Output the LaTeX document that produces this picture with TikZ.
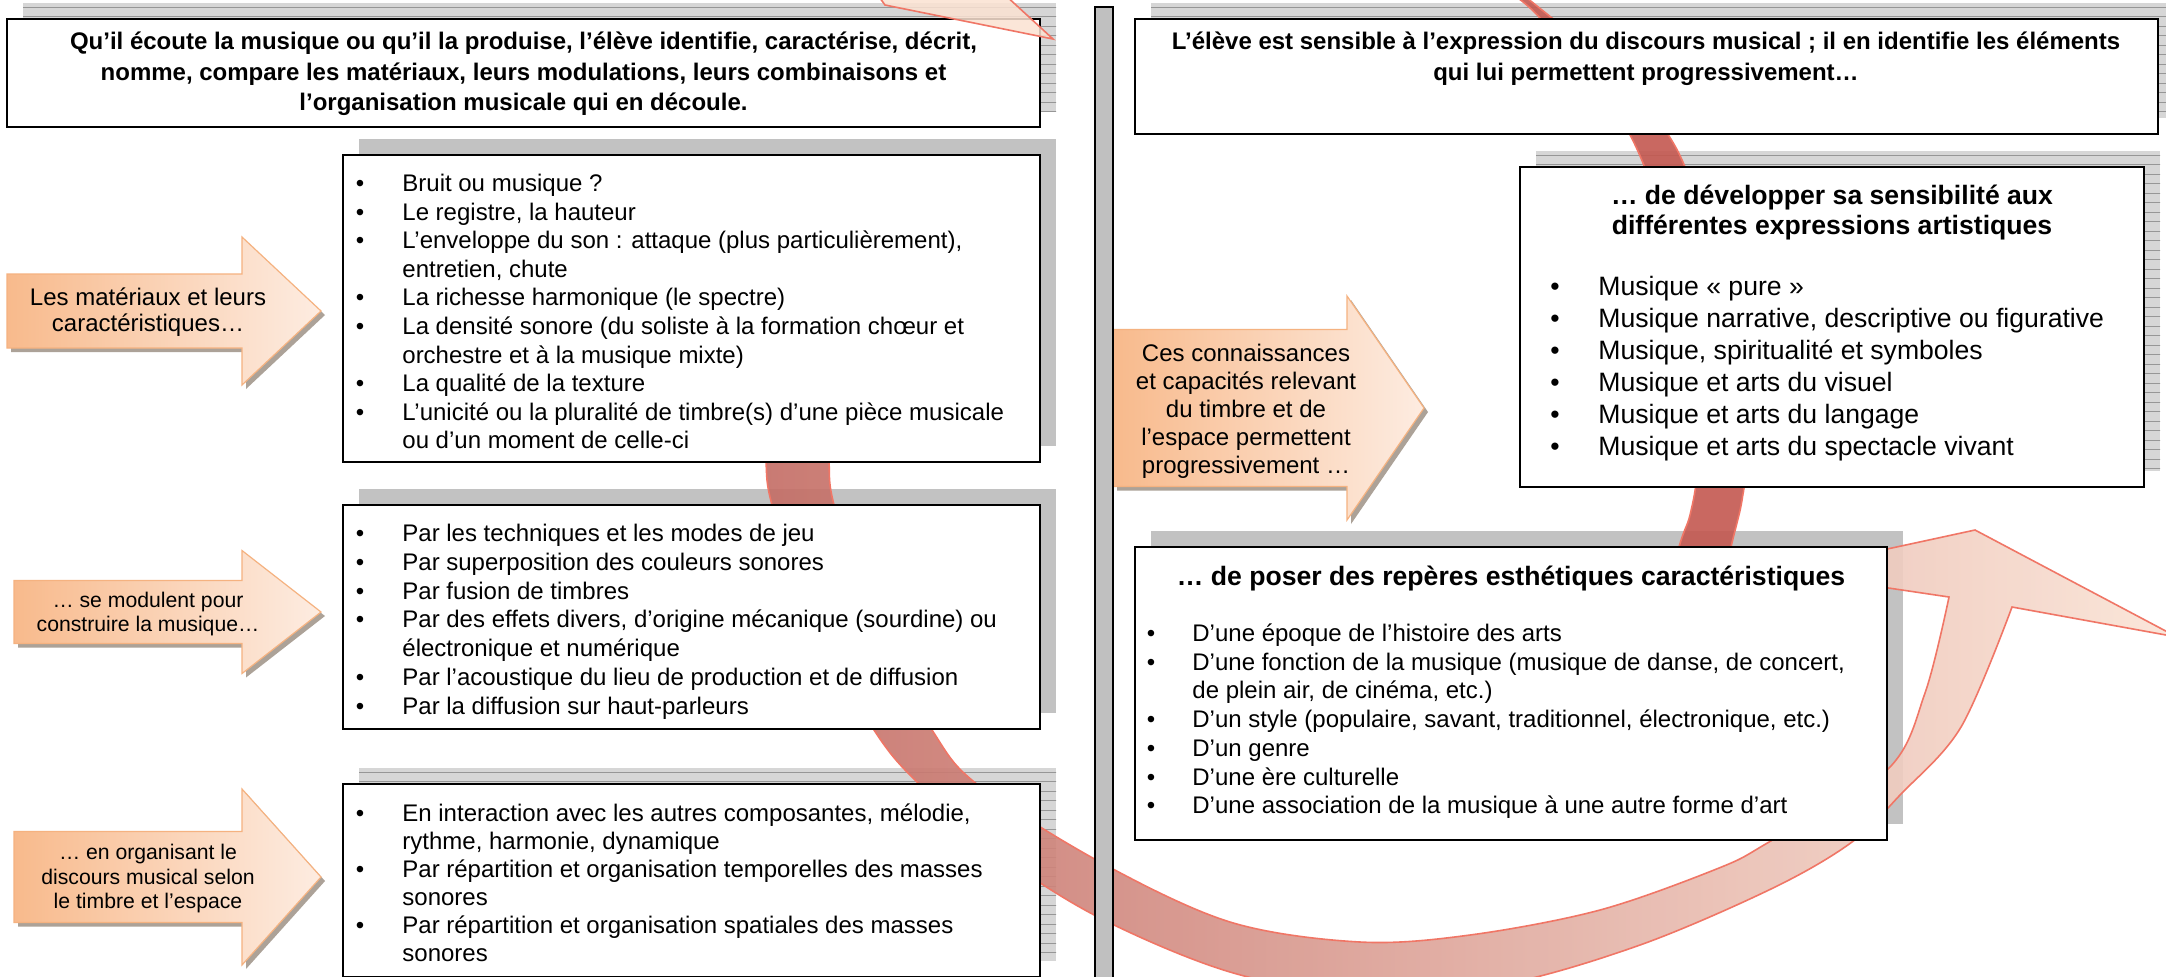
\documentclass[tikz,border=0pt]{standalone}
\usepackage{fontspec}
\setmainfont{Liberation Sans}
\definecolor{shadowgray}{RGB}{194,194,194}
\definecolor{stripebg}{RGB}{214,214,214}
\definecolor{arrL}{RGB}{248,186,140}
\definecolor{arrR}{RGB}{253,236,225}
\definecolor{arrEdge}{RGB}{245,178,128}
\definecolor{arrShadow}{RGB}{172,162,152}
\definecolor{ribA1}{RGB}{196,108,100}
\definecolor{ribA2}{RGB}{240,160,146}
\definecolor{ribA3}{RGB}{251,228,214}
\definecolor{ribB}{RGB}{196,88,80}
\definecolor{ribEdge}{RGB}{240,118,102}
\definecolor{headFill}{RGB}{251,226,210}
\definecolor{divgray}{RGB}{192,192,192}
\newcommand\fsA{\fontsize{12pt}{14pt}\selectfont}
\newcommand\fsB{\fontsize{13.3pt}{16pt}\selectfont}
\newcommand\fsC{\fontsize{10.6pt}{12.5pt}\selectfont}
\newcommand\shadowrect[4]{\fill[shadowgray] ({#1+16},{#2-16}) rectangle ({#3+16},{#4-16});}
\newcommand\stripedshadow[4]{%
  \fill[stripebg] ({#1+16},{#2-16}) rectangle ({#3+16},{#4-16});
  \begin{scope}
    \clip ({#1+16},{#2-16}) rectangle ({#3+16},{#4-16});
    \foreach \k in {0,...,40} {\draw[stripe] ({#1},{#2-12+\k*9.5}) -- ({#3+20},{#2-12+\k*9.5});}
  \end{scope}}
\newcommand\boxat[5]{\node[box, minimum width={(#4-#2)*0.5pt}, minimum height={(#5-#3)*0.5pt}] (#1) at ({(#2+#4)/2},{(#3+#5)/2}) {};}
\newcommand\blockarrow[7]{%
  \fill[arrshadow, shift={(4,4)}] (#2,{#5-#6}) -- (#3,{#5-#6}) -- (#3,{#5-#7}) -- (#4,#5) -- (#3,{#5+#7}) -- (#3,{#5+#6}) -- (#2,{#5+#6}) -- cycle;
  \shadedraw[arrowbody] (#2,{#5-#6}) -- (#3,{#5-#6}) -- (#3,{#5-#7}) -- (#4,#5) -- (#3,{#5+#7}) -- (#3,{#5+#6}) -- (#2,{#5+#6}) -- cycle;
  \coordinate (#1) at ({(#2+#3)/2},#5);}
\begin{document}
\begin{tikzpicture}[x=0.5pt,y=-0.5pt,
  box/.style={draw=black, line width=1.1pt, fill=white, inner sep=0pt, outer sep=0pt},
  lst/.style={inner sep=0pt, anchor=base west, font=\fsA},
  lstB/.style={inner sep=0pt, anchor=base west, font=\fsB},
  bul/.style={inner sep=0pt, anchor=base, font=\fsA},
  bulB/.style={inner sep=0pt, anchor=base, font=\fsB},
  ctr/.style={inner sep=0pt, anchor=base, font=\fsA},
  ctrS/.style={inner sep=0pt, anchor=base, font=\fsC},
  ttl/.style={inner sep=0pt, anchor=base, font=\fsA\bfseries},
  ttlB/.style={inner sep=0pt, anchor=base, font=\fsB\bfseries},
  stripe/.style={draw={rgb,255:red,150;green,150;blue,150}, line width=0.4pt},
  arrowbody/.style={left color=arrL, right color=arrR, draw=arrEdge, line width=0.6pt},
  arrshadow/.style={fill=arrShadow},
  ribbonA/.style={left color=ribA1, middle color=ribA2, right color=ribA3, draw=ribEdge, line width=0.8pt, fill opacity=0.9},
  ribbonB/.style={fill=ribB, draw=ribEdge, line width=0.8pt, fill opacity=0.9},
  headA/.style={fill=headFill, draw=ribEdge, line width=0.8pt, fill opacity=0.85}
]
\useasboundingbox (0,0) rectangle (2166,976);
\clip (0,0) rectangle (2166,976);
\fill[white] (0,0) rectangle (2166,976);

% ---------- box shadows ----------
\stripedshadow{7}{19}{1040}{127}
\stripedshadow{1135}{19}{2158}{134}
\shadowrect{343}{155}{1040}{462}
\shadowrect{343}{505}{1040}{729}
\stripedshadow{343}{784}{1040}{977}
\stripedshadow{1520}{167}{2144}{487}
\shadowrect{1135}{547}{1887}{840}

% ---------- ribbon B (top right) ----------
\filldraw[ribbonB] plot[smooth, tension=0.55] coordinates {(1498,-14) (1540,18) (1629,133) (1672,260) (1693,400) (1697,470) (1690,515) (1679,547) (1655,640)}
  -- plot[smooth, tension=0.55] coordinates {(1710,640) (1731,547) (1742,500) (1744,460) (1732,330) (1700,210) (1667,133) (1592,50) (1552,18) (1512,-14)} -- cycle;

% ---------- ribbon A (big loop) ----------
\shadedraw[ribbonA] plot[smooth, tension=0.55] coordinates {(768,300) (766,400) (766,461) (772,505) (806,610) (874,730) (920,785) (1000,855) (1100,918) (1230,972) (1360,995) (1500,985) (1640,945) (1773,888) (1852,842) (1900,795) (1961,727) (2012,607)}
  -- (2177,637) -- (1975,530) -- (1781,572) -- (1949,597)
  -- plot[smooth, tension=0.55] coordinates {(1949,597) (1925,693) (1887,770) (1769,842) (1719,868) (1600,910) (1470,935) (1360,942) (1230,922) (1100,862) (978,785) (932,730) (868,615) (834,505) (829,461) (829,400) (830,300)} -- cycle;

% ---------- block arrows ----------
\blockarrow{a1}{7}{242}{321}{311}{37}{74}
\blockarrow{a2}{14}{242}{321}{612}{31.5}{61.5}
\blockarrow{a3}{14}{242}{321}{877}{45.5}{88}
\blockarrow{a4}{1113}{1347}{1424}{408}{78.5}{112}

% ---------- boxes ----------
\boxat{b1}{7}{19}{1040}{127}
\boxat{b2}{1135}{19}{2158}{134}
\boxat{b4}{343}{155}{1040}{462}
\boxat{b5}{343}{505}{1040}{729}
\boxat{b6}{343}{784}{1040}{977}
\boxat{b9}{1520}{167}{2144}{487}
\boxat{b10}{1135}{547}{1887}{840}

% ---------- arrowhead at top left ----------
\filldraw[headA] (877,-6) -- (885,5) -- (1053,39) -- (1004,-6) -- cycle;

% ---------- divider ----------
\filldraw[fill=divgray, draw=black, line width=1.3pt] (1095,7) rectangle (1113,990);

% ---------- titles ----------
\node[ttl] (t1a) at (523.5,49) {Qu’il écoute la musique ou qu’il la produise, l’élève identifie, caractérise, décrit,};
\node[ttl] (t1b) at (523.5,80) {nomme, compare les matériaux, leurs modulations, leurs combinaisons et};
\node[ttl] (t1c) at (523.5,110) {l’organisation musicale qui en découle.};
\node[ttl] (t2a) at (1646,49) {L’élève est sensible à l’expression du discours musical ; il en identifie les éléments};
\node[ttl] (t2b) at (1646,80) {qui lui permettent progressivement…};

% ---------- arrow texts ----------
\node[ctr] (a1t1) at (148,305) {Les matériaux et leurs};
\node[ctr] (a1t2) at (148,331) {caractéristiques…};
\node[ctrS] (a2t1) at (148,607.5) {… se modulent pour};
\node[ctrS] (a2t2) at (148,631.5) {construire la musique…};
\node[ctrS] (a3t1) at (148,859.5) {… en organisant le};
\node[ctrS] (a3t2) at (148,884.5) {discours musical selon};
\node[ctrS] (a3t3) at (148,908.5) {le timbre et l’espace};
\foreach \t [count=\i from 0] in {{Ces connaissances},{et capacités relevant},{du timbre et de},{l’espace permettent},{progressivement …}}
  \node[ctr] (a4t\i) at (1246,{361.5+28*\i}) {\t};

% ---------- list box 4 ----------
\foreach \t [count=\i from 0] in {{Bruit ou musique ?},{Le registre, la hauteur},{L’enveloppe du son : attaque (plus particulièrement),},{entretien, chute},{La richesse harmonique (le spectre)},{La densité sonore (du soliste à la formation chœur et},{orchestre et à la musique mixte)},{La qualité de la texture},{L’unicité ou la pluralité de timbre(s) d’une pièce musicale},{ou d’un moment de celle-ci}}
  \node[lst] (l4-\i) at (402,{191.5+28.6*\i}) {\t};
\foreach \k in {0,1,2,4,5,7,8}
  \node[bul] (u4-\k) at (360,{191.5+28.6*\k}) {•};

% ---------- list box 5 ----------
\foreach \t [count=\i from 0] in {{Par les techniques et les modes de jeu},{Par superposition des couleurs sonores},{Par fusion de timbres},{Par des effets divers, d’origine mécanique (sourdine) ou},{électronique et numérique},{Par l’acoustique du lieu de production et de diffusion},{Par la diffusion sur haut-parleurs}}
  \node[lst] (l5-\i) at (402,{541.5+28.8*\i}) {\t};
\foreach \k in {0,1,2,3,5,6}
  \node[bul] (u5-\k) at (360,{541.5+28.8*\k}) {•};

% ---------- list box 6 ----------
\foreach \t [count=\i from 0] in {{En interaction avec les autres composantes, mélodie,},{rythme, harmonie, dynamique},{Par répartition et organisation temporelles des masses},{sonores},{Par répartition et organisation spatiales des masses},{sonores}}
  \node[lst] (l6-\i) at (402,{821.5+28*\i}) {\t};
\foreach \k in {0,2,4}
  \node[bul] (u6-\k) at (360,{821.5+28*\k}) {•};

% ---------- box 9 ----------
\node[ttlB] (t9a) at (1832,204.5) {… de développer sa sensibilité aux};
\node[ttlB] (t9b) at (1832,234.5) {différentes expressions artistiques};
\foreach \t [count=\i from 0] in {{Musique « pure »},{Musique narrative, descriptive ou figurative},{Musique, spiritualité et symboles},{Musique et arts du visuel},{Musique et arts du langage},{Musique et arts du spectacle vivant}}
  {\node[lstB] (l9-\i) at (1598,{295.5+32*\i}) {\t};
   \node[bulB] (u9-\i) at (1555,{295.5+32*\i}) {•};}

% ---------- box 10 ----------
\node[ttlB] (t10) at (1511,585.5) {… de poser des repères esthétiques caractéristiques};
\foreach \t [count=\i from 0] in {{D’une époque de l’histoire des arts},{D’une fonction de la musique (musique de danse, de concert,},{de plein air, de cinéma, etc.)},{D’un style (populaire, savant, traditionnel, électronique, etc.)},{D’un genre},{D’une ère culturelle},{D’une association de la musique à une autre forme d’art}}
  \node[lst] (l10-\i) at (1192,{641.5+28.7*\i}) {\t};
\foreach \k in {0,1,3,4,5,6}
  \node[bul] (u10-\k) at (1151,{641.5+28.7*\k}) {•};
\end{tikzpicture}
\end{document}
